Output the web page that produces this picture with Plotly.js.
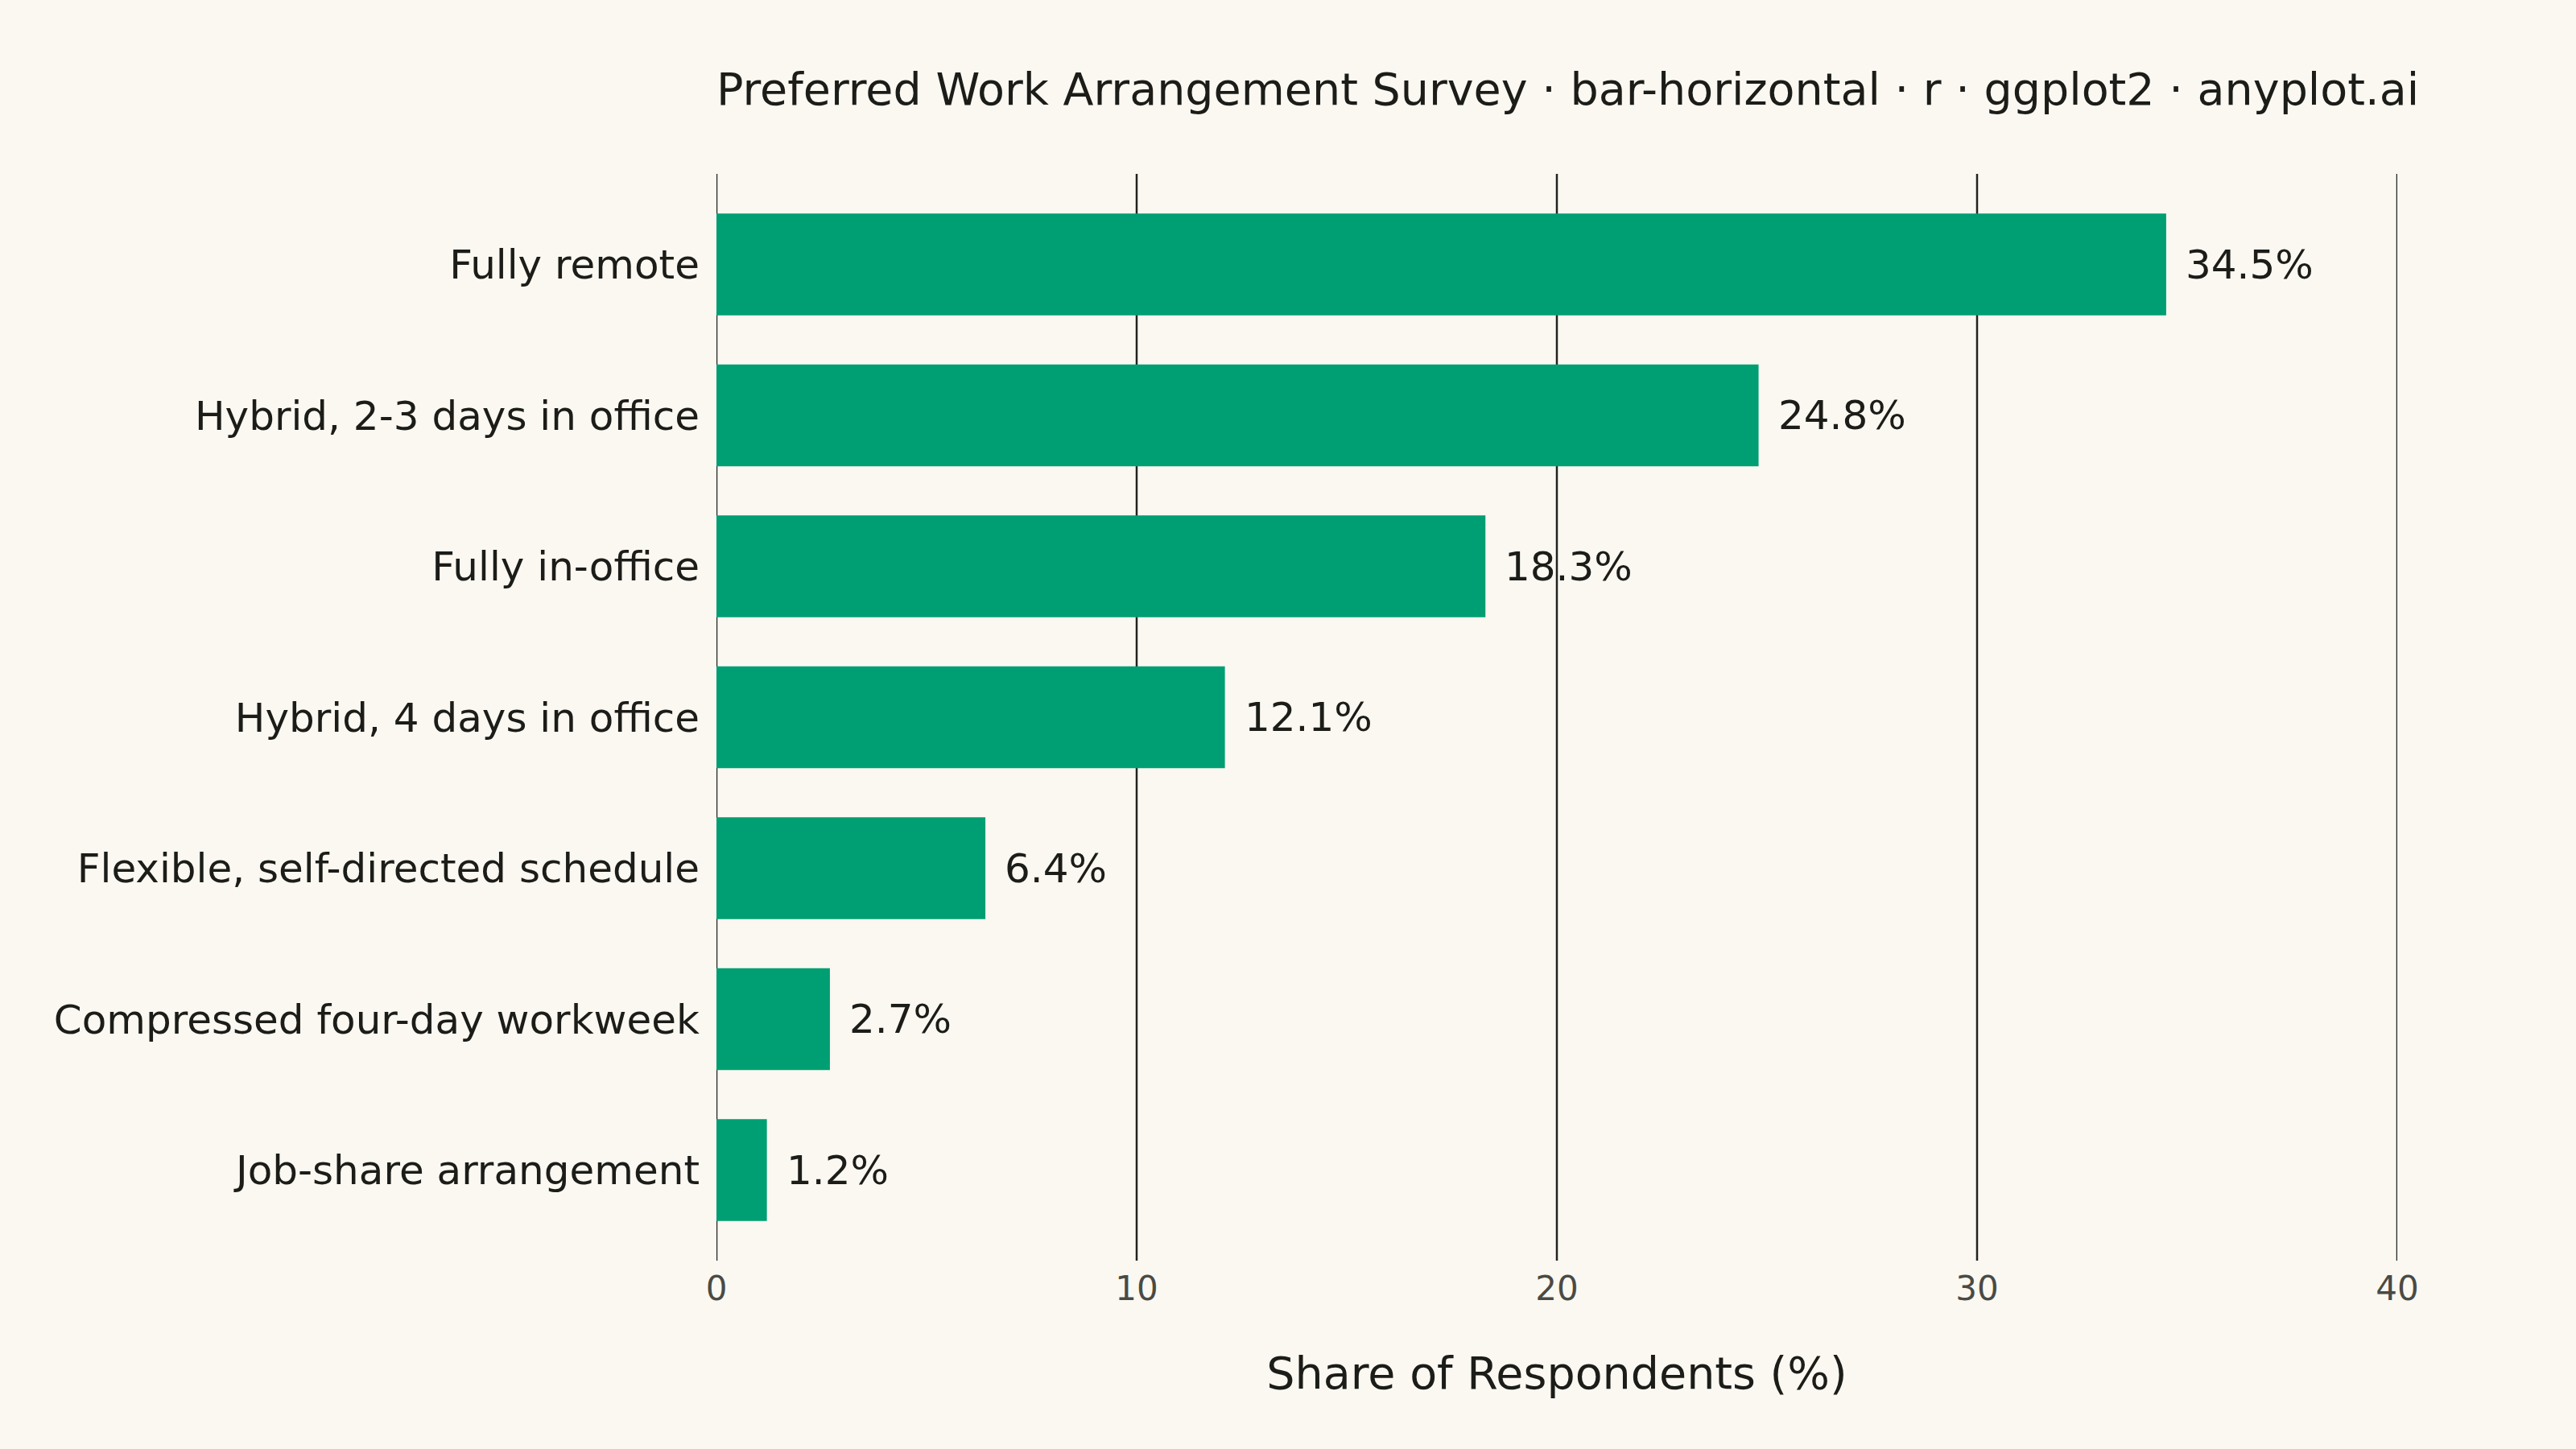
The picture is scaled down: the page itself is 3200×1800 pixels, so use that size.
<!DOCTYPE html>
<html>
<head>
<meta charset="utf-8">
<script src="https://cdn.plot.ly/plotly-3.0.1.min.js"></script>
<style>
  html, body { margin: 0; padding: 0; background: #FAF8F1; }
  #chart { width: 3200px; height: 1800px; }
</style>
</head>
<body>
<div id="chart"></div>
<script>
// survey answers, top to bottom
const arrangements = [
  "Fully remote",
  "Hybrid, 2-3 days in office",
  "Fully in-office",
  "Hybrid, 4 days in office",
  "Flexible, self-directed schedule",
  "Compressed four-day workweek",
  "Job-share arrangement"
];
const shares = [34.5, 24.8, 18.3, 12.1, 6.4, 2.7, 1.2];
const xTicks = [0, 10, 20, 30, 40];

const font = "DejaVu Sans";
const ink = "#1c1c18";

const bars = {
  type: "bar",
  orientation: "h",
  x: shares,
  y: arrangements,
  marker: { color: "#009E73" },
  hoverinfo: "skip"
};

// value labels just past the bar ends
const labels = shares.map((v, i) => ({
  x: v,
  y: arrangements[i],
  xref: "x",
  yref: "y",
  text: v.toFixed(1) + "%",
  showarrow: false,
  xanchor: "left",
  xshift: 22,
  font: { family: font, size: 50, color: ink }
}));

// plotly drops gridlines sitting on the panel edges, so draw them all as shapes
const gridLines = xTicks.map(t => ({
  type: "line",
  layer: "below",
  xref: "x",
  yref: "paper",
  x0: t, x1: t,
  y0: 0, y1: 1,
  line: { color: "#222220", width: 2.5 }
}));

const layout = {
  width: 3200,
  height: 1800,
  paper_bgcolor: "#FAF8F1",
  plot_bgcolor: "#FAF8F1",
  margin: { l: 890, r: 222, t: 216, b: 234 },
  bargap: 0.325,
  showlegend: false,
  title: {
    text: "Preferred Work Arrangement Survey · bar-horizontal · r · ggplot2 · anyplot.ai",
    font: { family: font, size: 55.5, color: ink },
    xref: "paper",
    x: 0,
    xanchor: "left",
    yref: "container",
    y: 1 - 111 / 1800,
    yanchor: "middle"
  },
  xaxis: {
    range: [0, 40],
    tickvals: xTicks,
    ticktext: xTicks.map(String),
    showgrid: false,
    zeroline: false,
    showline: false,
    ticks: "",
    ticklabelstandoff: 6,
    tickfont: { family: font, size: 42, color: "#4a4a45" },
    title: {
      text: "Share of Respondents (%)",
      font: { family: font, size: 55.5, color: ink },
      standoff: 62
    }
  },
  yaxis: {
    type: "category",
    range: [arrangements.length - 0.4, -0.6],
    showgrid: false,
    zeroline: false,
    showline: false,
    ticks: "",
    ticklabelstandoff: 20,
    tickfont: { family: font, size: 50, color: ink }
  },
  shapes: gridLines,
  annotations: labels
};

Plotly.newPlot("chart", [bars], layout, { staticPlot: true });
</script>
</body>
</html>
